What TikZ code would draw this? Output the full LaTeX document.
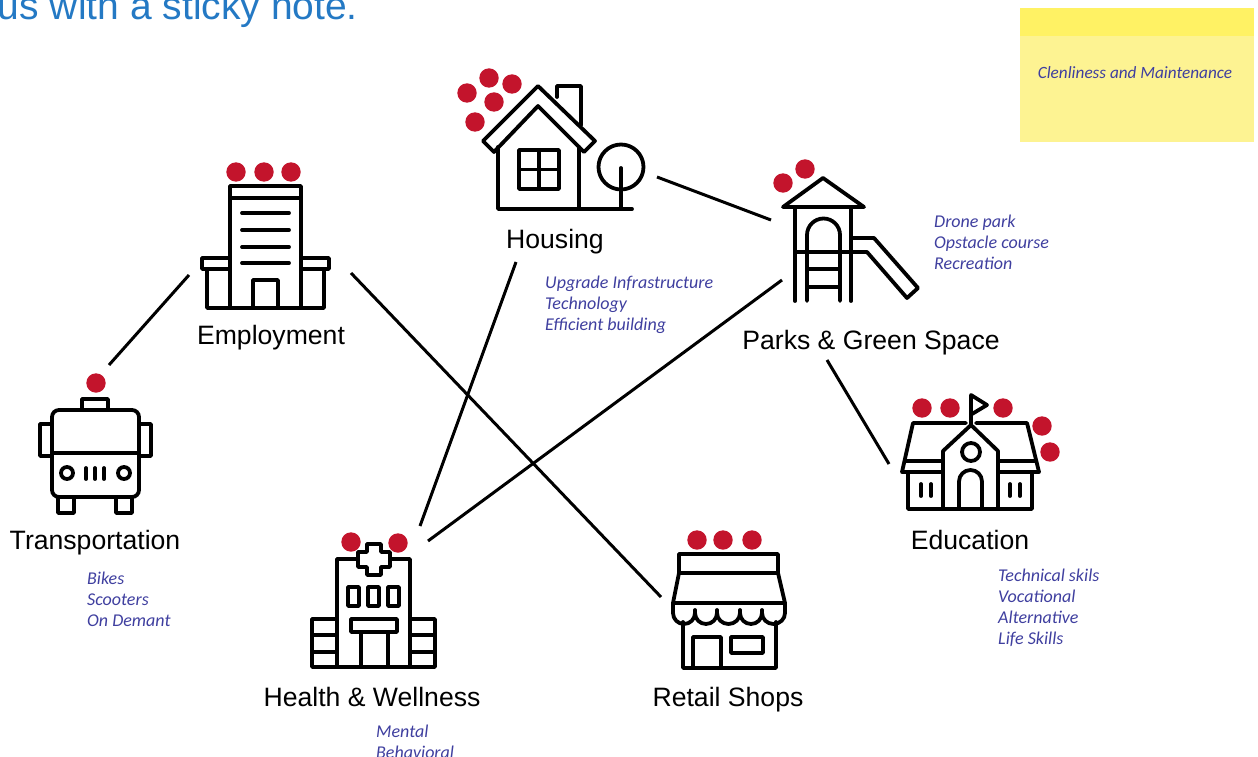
\documentclass[tikz,border=0pt]{standalone}
\usepackage{fontspec}
\setmainfont{Liberation Sans}
\newfontfamily\handfont{Carlito}
\definecolor{inkblue}{HTML}{3F3F9F}
\definecolor{titleblue}{HTML}{2479C4}
\definecolor{reddot}{HTML}{C3142C}
\definecolor{noteback}{HTML}{FDF392}
\definecolor{notehead}{HTML}{FFF264}
\tikzset{
  icon/.style={draw=black,line width=3.8pt,line join=round,line cap=round},
  link/.style={draw=black,line width=3pt},
  lab/.style={font=\fontsize{26.6}{30}\selectfont,anchor=base,inner sep=0pt},
  notes/.style={font=\handfont\itshape\fontsize{18}{21}\selectfont,text=inkblue,align=left,anchor=north west,inner sep=0pt},
  dotred/.style={fill=reddot}
}
\begin{document}
\begin{tikzpicture}[x=1pt,y=-1pt]
\useasboundingbox (0,0) rectangle (1258,757);
% title
\node[anchor=base east,inner sep=0pt,text=titleblue,font=\fontsize{39}{44}\selectfont] (title) at (358,20) {us with a sticky note.};
% sticky note
\fill[noteback] (1020,8) rectangle (1254,142);
\fill[notehead] (1020,8) rectangle (1254,36);
\node[notes,anchor=center,font=\handfont\itshape\fontsize{17.2}{21}\selectfont] (stickytext) at (1135,73) {Clenliness and Maintenance};
% connector ends
\coordinate (hp1) at (657,177); \coordinate (hp2) at (771,220);
\coordinate (et1) at (189,275); \coordinate (et2) at (109,365);
\coordinate (er1) at (351,273); \coordinate (er2) at (661,597);
\coordinate (hh1) at (516,262); \coordinate (hh2) at (420,526);
\coordinate (ph1) at (782,280); \coordinate (ph2) at (428,541);
\coordinate (pe1) at (827,360); \coordinate (pe2) at (889,464);
\draw[link] (hp1) -- (hp2);
\draw[link] (et1) -- (et2);
\draw[link] (er1) -- (er2);
\draw[link] (hh1) -- (hh2);
\draw[link] (ph1) -- (ph2);
\draw[link] (pe1) -- (pe2);
% housing
\draw[icon] (483,141) -- (538,86) -- (595,141) -- (584,152) -- (538,106) -- (494,152) -- cycle;
\draw[icon] (498,147) -- (498,209) -- (632,209);
\draw[icon] (579,147) -- (579,209);
\draw[icon] (557,97) -- (557,86) -- (581,86) -- (581,125);
\draw[icon] (519,150) rectangle (559,189);
\draw[icon] (539,150) -- (539,189) (519,169.5) -- (559,169.5);
\draw[icon] (621,167) circle[radius=22.5];
\draw[icon] (621,168) -- (621,209);
\foreach \p in {(467,93),(489,78),(512,84),(494,102),(475,122)} \fill[dotred] \p circle[radius=9.7];
\node[lab] (housing) at (555,248) {Housing};
\node[notes] (housingnotes) at (545,276) {Upgrade Infrastructure\\Technology\\Efficient building};
% parks
\draw[icon] (823,178) -- (783,207) -- (864,207) -- cycle;
\draw[icon] (795,207) -- (795,301) (851,207) -- (851,301);
\draw[icon] (807,301) -- (807,235) arc[start angle=180,end angle=360,radius=16.5] -- (840,301);
\draw[icon] (795,252) -- (867,252) -- (907,298) -- (918,288) -- (874,238) -- (851,238);
\draw[icon] (807,269) -- (840,269) (807,287) -- (840,287);
\foreach \p in {(783,183),(805,169)} \fill[dotred] \p circle[radius=9.7];
\node[lab] (parks) at (871,349) {Parks \& Green Space};
\node[notes] (parksnotes) at (934,215) {Drone park\\Opstacle course\\Recreation};
% employment
\draw[icon] (230,186) rectangle (301,198);
\draw[icon] (230,198) -- (230,308) (301,198) -- (301,308);
\draw[icon] (207,269) -- (207,308) -- (324,308) -- (324,269);
\draw[icon] (230,258) -- (202,258) -- (202,269) -- (230,269);
\draw[icon] (301,258) -- (329,258) -- (329,269) -- (301,269);
\draw[icon] (253,308) -- (253,280) -- (278,280) -- (278,308);
\foreach \y in {213,230,247,263} \draw[icon] (242,\y) -- (289,\y);
\foreach \p in {(236,172),(264,172),(291,172)} \fill[dotred] \p circle[radius=9.7];
\node[lab] (employment) at (271,344) {Employment};
% transportation
\draw[icon,rounded corners=7pt] (52,410) rectangle (139,497);
\draw[icon] (52,453) -- (139,453);
\draw[icon] (82,410) -- (82,399) -- (108,399) -- (108,410);
\draw[icon] (52,424) -- (40,424) -- (40,456) -- (52,456);
\draw[icon] (139,424) -- (151,424) -- (151,456) -- (139,456);
\draw[icon] (58,497) -- (58,513) -- (74,513) -- (74,497);
\draw[icon] (116,497) -- (116,513) -- (132,513) -- (132,497);
\draw[icon] (67,473) circle[radius=6];
\draw[icon] (124,473) circle[radius=6];
\foreach \x in {86,95,104} \draw[icon] (\x,468) -- (\x,479);
\fill[dotred] (96,383) circle[radius=9.7];
\node[lab] (transportation) at (95,549) {Transportation};
\node[notes] (transportnotes) at (87,572) {Bikes\\Scooters\\On Demant};
% health
\draw[icon] (358,559) -- (337,559) -- (337,667) -- (410,667) -- (410,559) -- (390,559);
\draw[icon] (367,544) -- (381,544) -- (381,552) -- (390,552) -- (390,567) -- (381,567) -- (381,575) -- (367,575) -- (367,567) -- (358,567) -- (358,552) -- (367,552) -- cycle;
\draw[icon] (348,587) rectangle (359,606);
\draw[icon] (368,587) rectangle (379,606);
\draw[icon] (388,587) rectangle (399,606);
\draw[icon] (351,619) rectangle (397,632);
\draw[icon] (361,632) -- (361,667) (388,632) -- (388,667);
\draw[icon] (337,619) -- (312,619) -- (312,667) -- (337,667);
\draw[icon] (410,619) -- (435,619) -- (435,667) -- (410,667);
\draw[icon] (312,635) -- (337,635) (312,652) -- (337,652);
\draw[icon] (410,635) -- (435,635) (410,652) -- (435,652);
\foreach \p in {(351,542),(398,543)} \fill[dotred] \p circle[radius=9.7];
\node[lab] (health) at (372,706) {Health \& Wellness};
\node[notes] (healthnotes) at (376,725) {Mental\\Behavioral};
% retail
\draw[icon] (679,554) rectangle (778,573);
\draw[icon] (679,573) -- (673,603) -- (785,603) -- (778,573);
\draw[icon] (673,603) -- (673,613) arc[start angle=180,end angle=0,x radius=11,y radius=11]
  arc[start angle=180,end angle=0,x radius=11,y radius=11]
  arc[start angle=180,end angle=0,x radius=11.5,y radius=11]
  arc[start angle=180,end angle=0,x radius=11,y radius=11]
  arc[start angle=180,end angle=0,x radius=11.5,y radius=11] -- (785,603);
\draw[icon] (695,613) -- (695,610) (717,613) -- (717,610) (740,613) -- (740,610) (762,613) -- (762,610);
\draw[icon] (683,622) -- (683,668) -- (776,668) -- (776,622);
\draw[icon] (693,668) -- (693,637) -- (721,637) -- (721,668);
\draw[icon] (731,637) rectangle (763,653);
\foreach \p in {(697,540),(723,540),(752,540)} \fill[dotred] \p circle[radius=9.7];
\node[lab] (retail) at (728,706) {Retail Shops};
% education
\draw[icon] (942,461) -- (905,461) (998,461) -- (1035,461);
\draw[icon] (966,423) -- (913,423) -- (902,472) -- (943,472);
\draw[icon] (976,423) -- (1027,423) -- (1039,472) -- (998,472);
\draw[icon] (908,472) -- (908,509) -- (1032,509) -- (1032,472);
\draw[icon] (943,509) -- (943,451) -- (971,425) -- (998,451) -- (998,509);
\draw[icon] (971,425) -- (971,395) -- (987,405) -- (972,414);
\draw[icon] (971,452) circle[radius=9];
\draw[icon] (959,509) -- (959,481.5) arc[start angle=180,end angle=360,radius=11.5] -- (982,509);
\draw[icon] (921,484) -- (921,496) (931,484) -- (931,496) (1010,484) -- (1010,496) (1020,484) -- (1020,496);
\foreach \p in {(922,408),(950,408),(1003,408),(1042,426),(1050,452)} \fill[dotred] \p circle[radius=9.7];
\node[lab] (education) at (970,549) {Education};
\node[notes] (educationnotes) at (998,569) {Technical skils\\Vocational\\Alternative\\Life Skills};
\end{tikzpicture}
\end{document}
